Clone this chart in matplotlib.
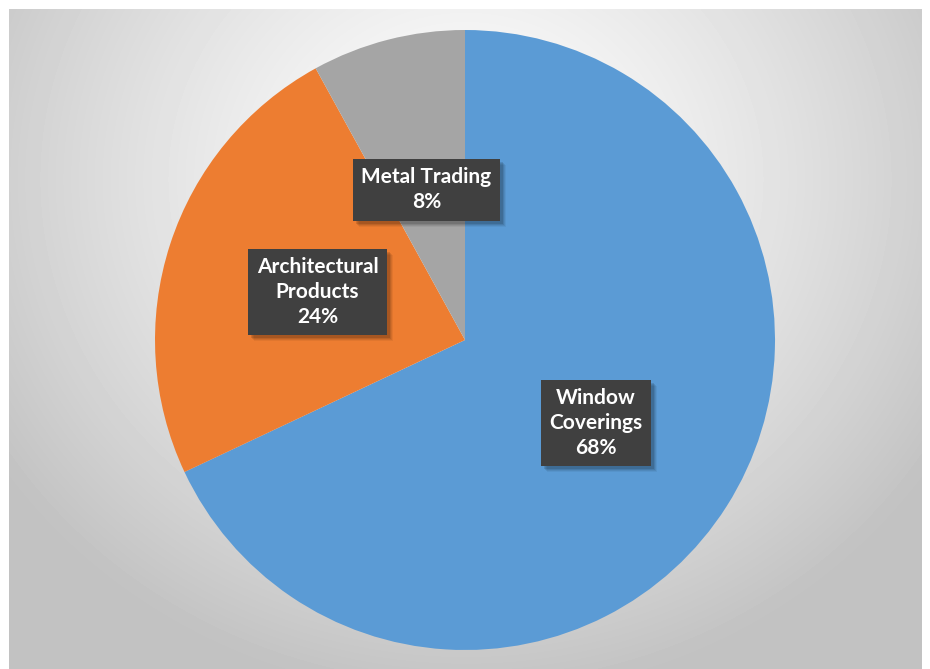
import numpy as np
import matplotlib
matplotlib.use("Agg")
import matplotlib.pyplot as plt
from matplotlib.patches import Rectangle
from matplotlib.transforms import IdentityTransform

# Revenue share by segment
segments = ["Window\nCoverings", "Architectural\nProducts", "Metal Trading"]
shares = [68, 24, 8]
colors = ["#5B9BD5", "#ED7D31", "#A5A5A5"]

W, H, DPI = 930, 669, 100
fig = plt.figure(figsize=(W / DPI, H / DPI), dpi=DPI)
fig.patch.set_facecolor("white")

# Chart area with a soft radial gray gradient
bg_left, bg_top, bg_right, bg_bottom = 9, 9, 922, 669
bg = fig.add_axes([bg_left / W, (H - bg_bottom) / H,
                   (bg_right - bg_left) / W, (bg_bottom - bg_top) / H])
bg.set_axis_off()
ny, nx = bg_bottom - bg_top, bg_right - bg_left
yy, xx = np.mgrid[0:ny, 0:nx]
cx, cy = nx / 2.0, 170.0
r = np.sqrt(((xx - cx) / 560.0) ** 2 + ((yy - cy) / 520.0) ** 2)
shade = 1.0 - 0.24 * np.clip(r, 0, 1) ** 1.3
bg.imshow(shade, cmap="gray", vmin=0, vmax=1, aspect="auto",
          interpolation="bilinear", extent=[0, nx, ny, 0])

# Pie axes: centre (465, 340) px, radius 310 px
pcx, pcy, pr = 465, 340, 310
ax = fig.add_axes([(pcx - pr) / W, (H - pcy - pr) / H, 2 * pr / W, 2 * pr / H])
wedges, _ = ax.pie(shares, colors=colors, startangle=90, counterclock=False,
                   radius=1.0, wedgeprops=dict(linewidth=0))
ax.set_xlim(-1, 1)
ax.set_ylim(-1, 1)
ax.set_aspect("equal")
ax.set_axis_off()

plt.rcParams["hatch.color"] = "#4a4a4a"
plt.rcParams["hatch.linewidth"] = 0.6

font = dict(family=["Lato", "DejaVu Sans"], weight="bold", size=15)
labels = []
for w, name, val in zip(wedges, segments, shares):
    ang = np.deg2rad((w.theta1 + w.theta2) / 2.0)
    x, y = 0.5 * np.cos(ang), 0.5 * np.sin(ang)
    t = ax.text(x, y, f"{name}\n{val}%", ha="center", va="center",
                color="white", linespacing=1.3, fontdict=font, zorder=10,
                bbox=dict(boxstyle="square,pad=0.4", fc="#404040", ec="none",
                          hatch="......", lw=0))
    labels.append(t)

# soft drop shadows behind the label boxes
fig.canvas.draw()
for t in labels:
    ext = t.get_bbox_patch().get_window_extent()
    for k, a in [(6, 0.05), (5, 0.07), (4, 0.09), (3, 0.12)]:
        ax.add_artist(Rectangle((ext.x0 + k, ext.y0 - k), ext.width, ext.height,
                                transform=IdentityTransform(), facecolor="black",
                                alpha=a, edgecolor="none", zorder=4, clip_on=False))

fig.savefig("out.png", dpi=DPI, facecolor="white")
